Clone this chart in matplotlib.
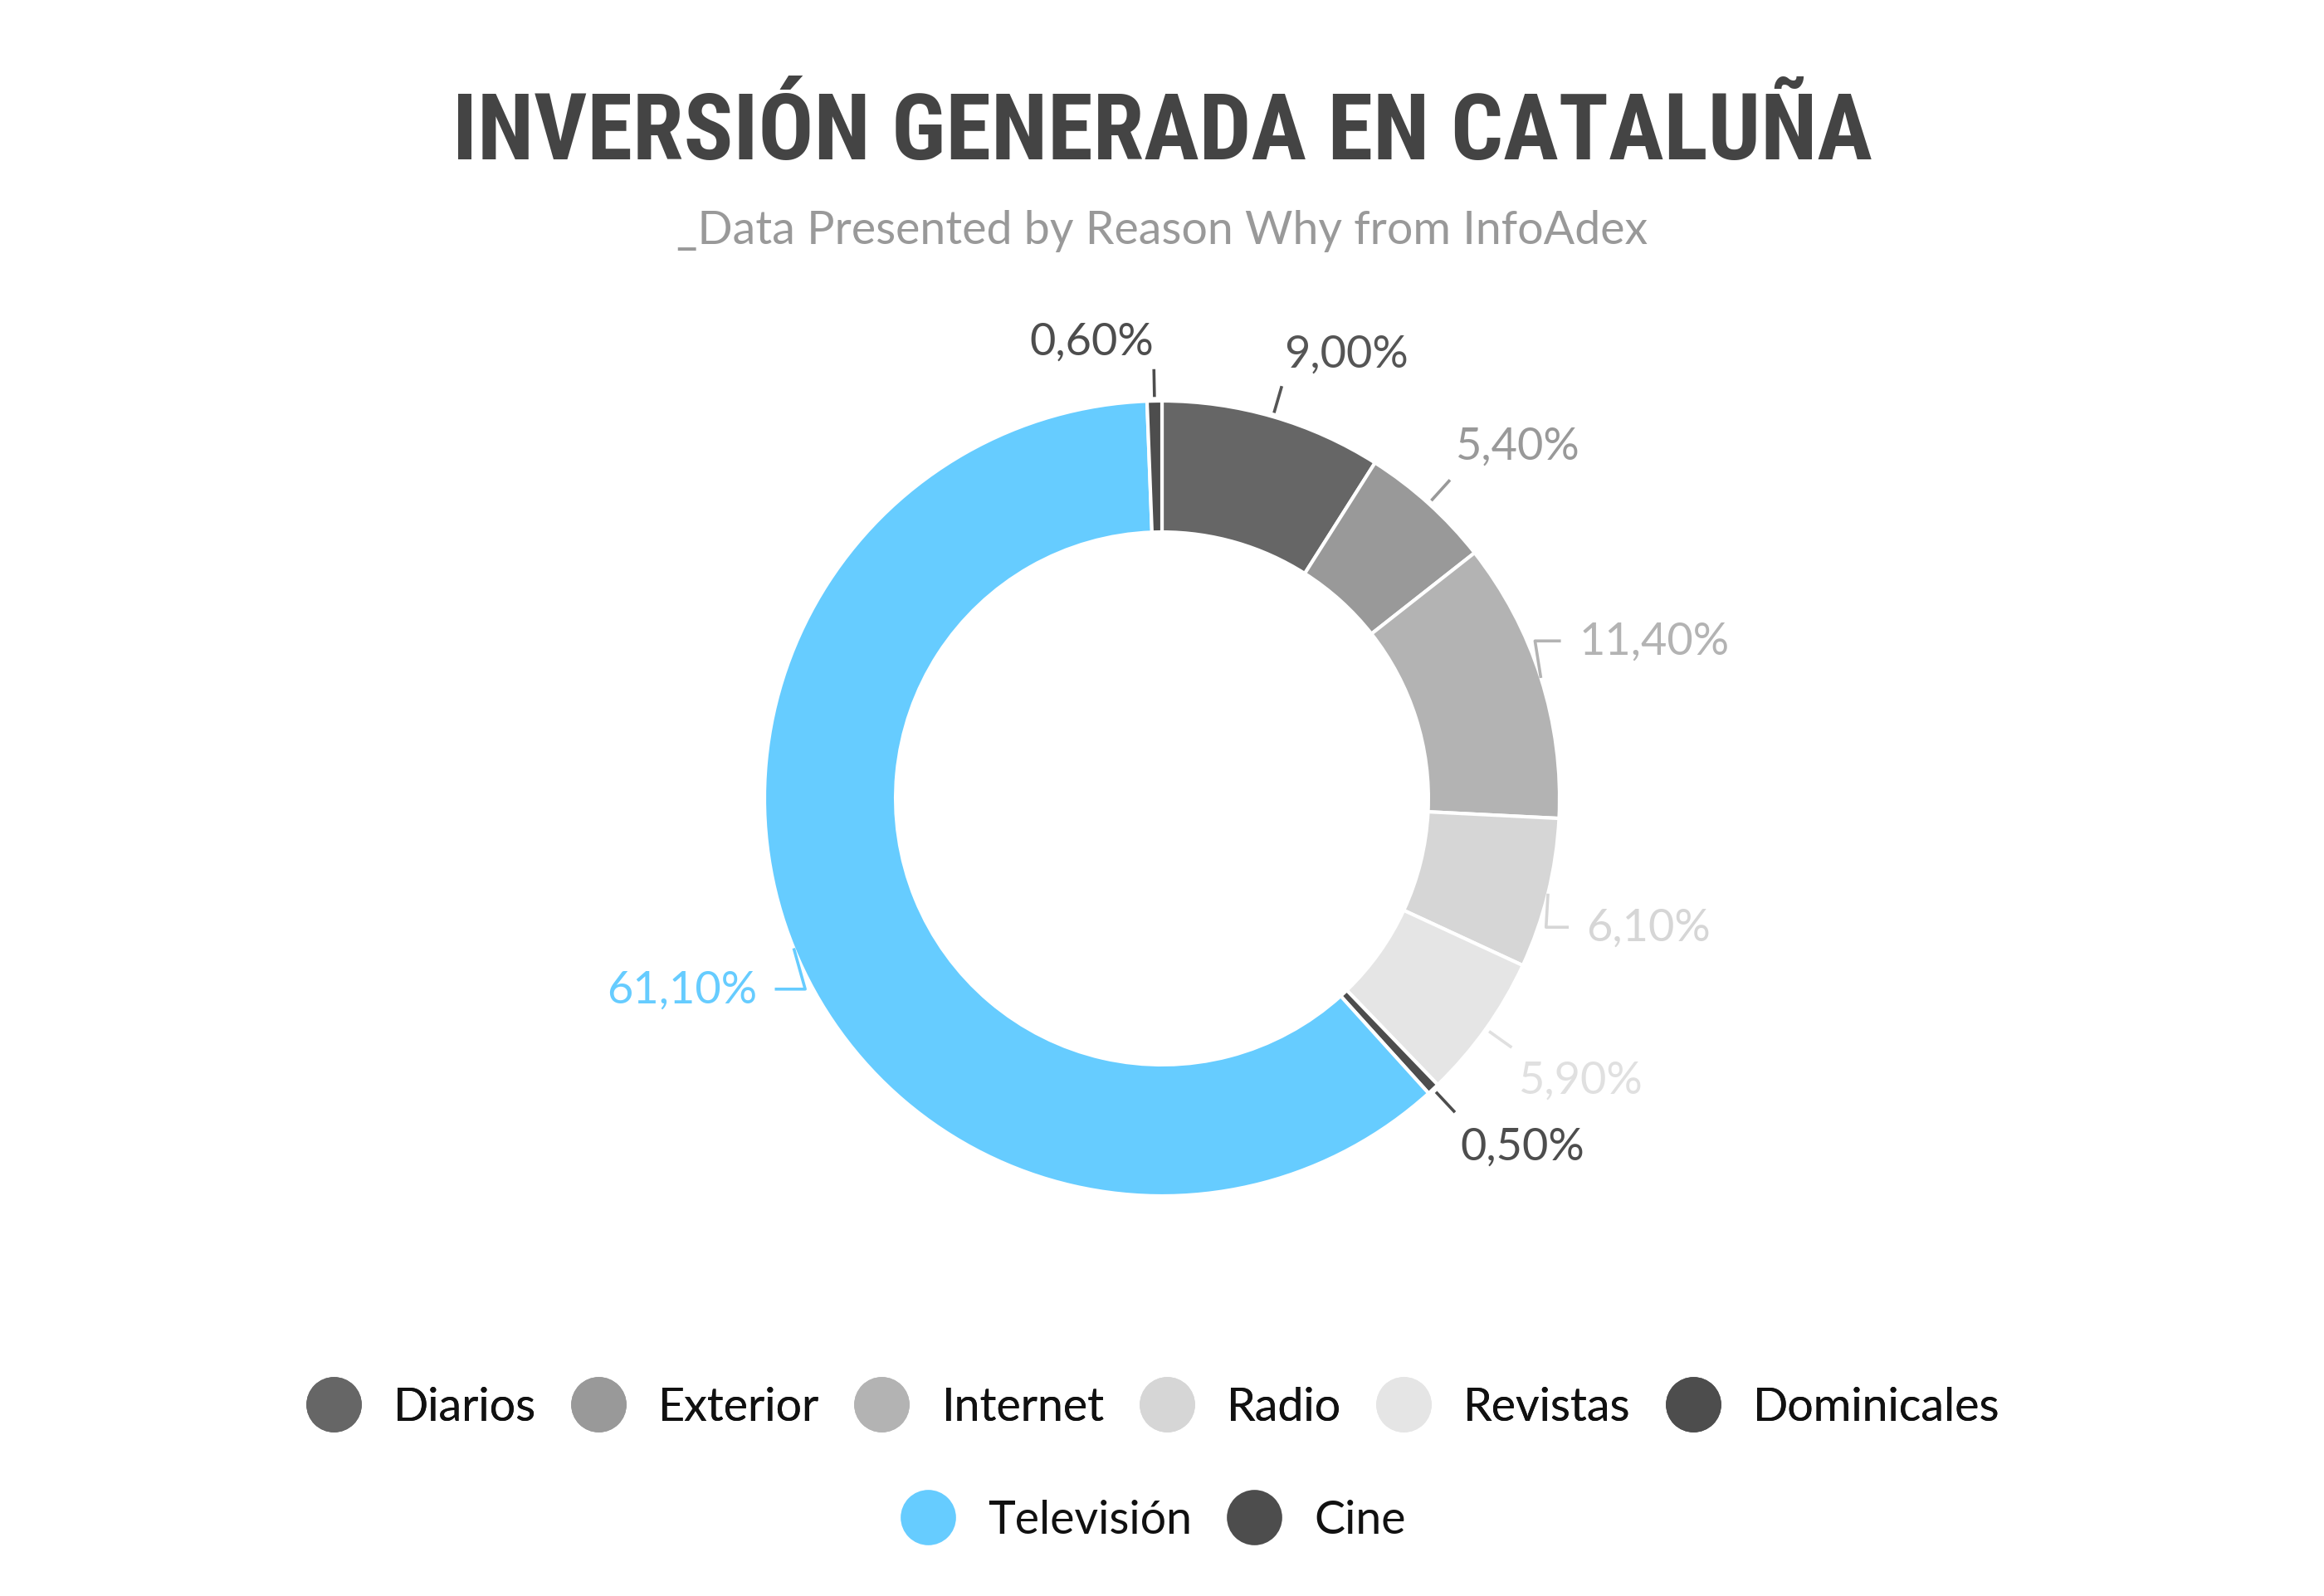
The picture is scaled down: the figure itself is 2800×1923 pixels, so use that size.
import numpy as np
import matplotlib
matplotlib.use("Agg")
import matplotlib.pyplot as plt
from matplotlib.lines import Line2D

# Data (share of advertising investment, %)
categories = ["Diarios", "Exterior", "Internet", "Radio", "Revistas",
              "Dominicales", "Televisión", "Cine"]
values = [9.0, 5.4, 11.4, 6.1, 5.9, 0.5, 61.1, 0.6]
colors = ["#666666", "#999999", "#b3b3b3", "#d6d6d6", "#e5e5e5",
          "#4d4d4d", "#66ccff", "#4d4d4d"]
label_colors = ["#555555", "#999999", "#b3b3b3", "#d6d6d6", "#e0e0e0",
                "#4d4d4d", "#66ccff", "#4d4d4d"]
row1 = categories[:6]
row2 = categories[6:]

TITLE = "INVERSIÓN GENERADA EN CATALUÑA"
SUBTITLE = "_Data Presented by Reason Why from InfoAdex"

W, H, DPI = 2800, 1924, 200
fig = plt.figure(figsize=(W / DPI, H / DPI), dpi=DPI)
fig.patch.set_facecolor("white")

# pie axes: centre (1400, 963) px, outer radius ~479 px
cx, cy, R_px, lim = 1400, 963, 479, 1.5
S = 2 * R_px * lim
ax = fig.add_axes([(cx - S / 2) / W, (H - cy - S / 2) / H, S / W, S / H])

wedges, _ = ax.pie(values, colors=colors, startangle=90, counterclock=False,
                   radius=1.0,
                   wedgeprops=dict(width=0.33, edgecolor="white", linewidth=1.5))
# pie() resets the limits, so set them afterwards
ax.set_xlim(-lim, lim)
ax.set_ylim(-lim, lim)
ax.set_aspect("equal")
ax.axis("off")

label_font = dict(family=["Lato", "DejaVu Sans"], fontsize=19.5)
for w, v, lc in zip(wedges, values, label_colors):
    mid = np.deg2rad((w.theta1 + w.theta2) / 2)
    c, s = np.cos(mid), np.sin(mid)
    side = 1 if c >= 0 else -1
    lx = 1.10 * c
    ly = 1.15 * s + 0.05 * np.sign(s) * abs(c)
    if abs(c) >= 0.85:
        # flat side of the ring: small bend off the rim, then horizontal
        xr = side * np.sqrt(1 - ly ** 2)
        xs = [1.0 * c, xr + side * 0.02, lx - side * 0.045]
        ys = [1.0 * s, ly, ly]
    else:
        # steep side of the ring: short radial tick
        xs, ys = [1.01 * c, 1.08 * c], [1.01 * s, 1.08 * s]
    ax.plot(xs, ys, color=lc, lw=1.3, solid_capstyle="butt")
    txt = f"{v:.2f}%".replace(".", ",")
    ax.text(lx, ly, txt, color=lc,
            ha="left" if side > 0 else "right", va="center", **label_font)

fig.text(0.5, 1 - 192 / H, TITLE, ha="center", va="baseline",
         family=["Roboto Condensed", "Roboto", "DejaVu Sans"], fontweight="bold",
         fontsize=40, color="#444444")
fig.text(0.5, 1 - 279 / H, SUBTITLE, ha="center", va="center",
         family=["Lato", "DejaVu Sans"], fontsize=20, color="#999999")


def legend_row(names, y):
    handles = [Line2D([], [], marker="o", linestyle="none", markersize=23,
                      markerfacecolor=colors[categories.index(n)],
                      markeredgecolor=colors[categories.index(n)])
               for n in names]
    leg = fig.legend(handles, names, loc="center", bbox_to_anchor=(0.497, 1 - y / H),
                     ncol=len(names), frameon=False, handlelength=1.0,
                     handletextpad=0.8, columnspacing=0.85,
                     prop=dict(family=["Lato", "DejaVu Sans"], size=20))
    for t in leg.get_texts():
        t.set_color("#111111")
    return leg


l1 = legend_row(row1, 1697)
fig.add_artist(l1)
legend_row(row2, 1833)

fig.savefig("out.png", dpi=DPI, facecolor="white")
